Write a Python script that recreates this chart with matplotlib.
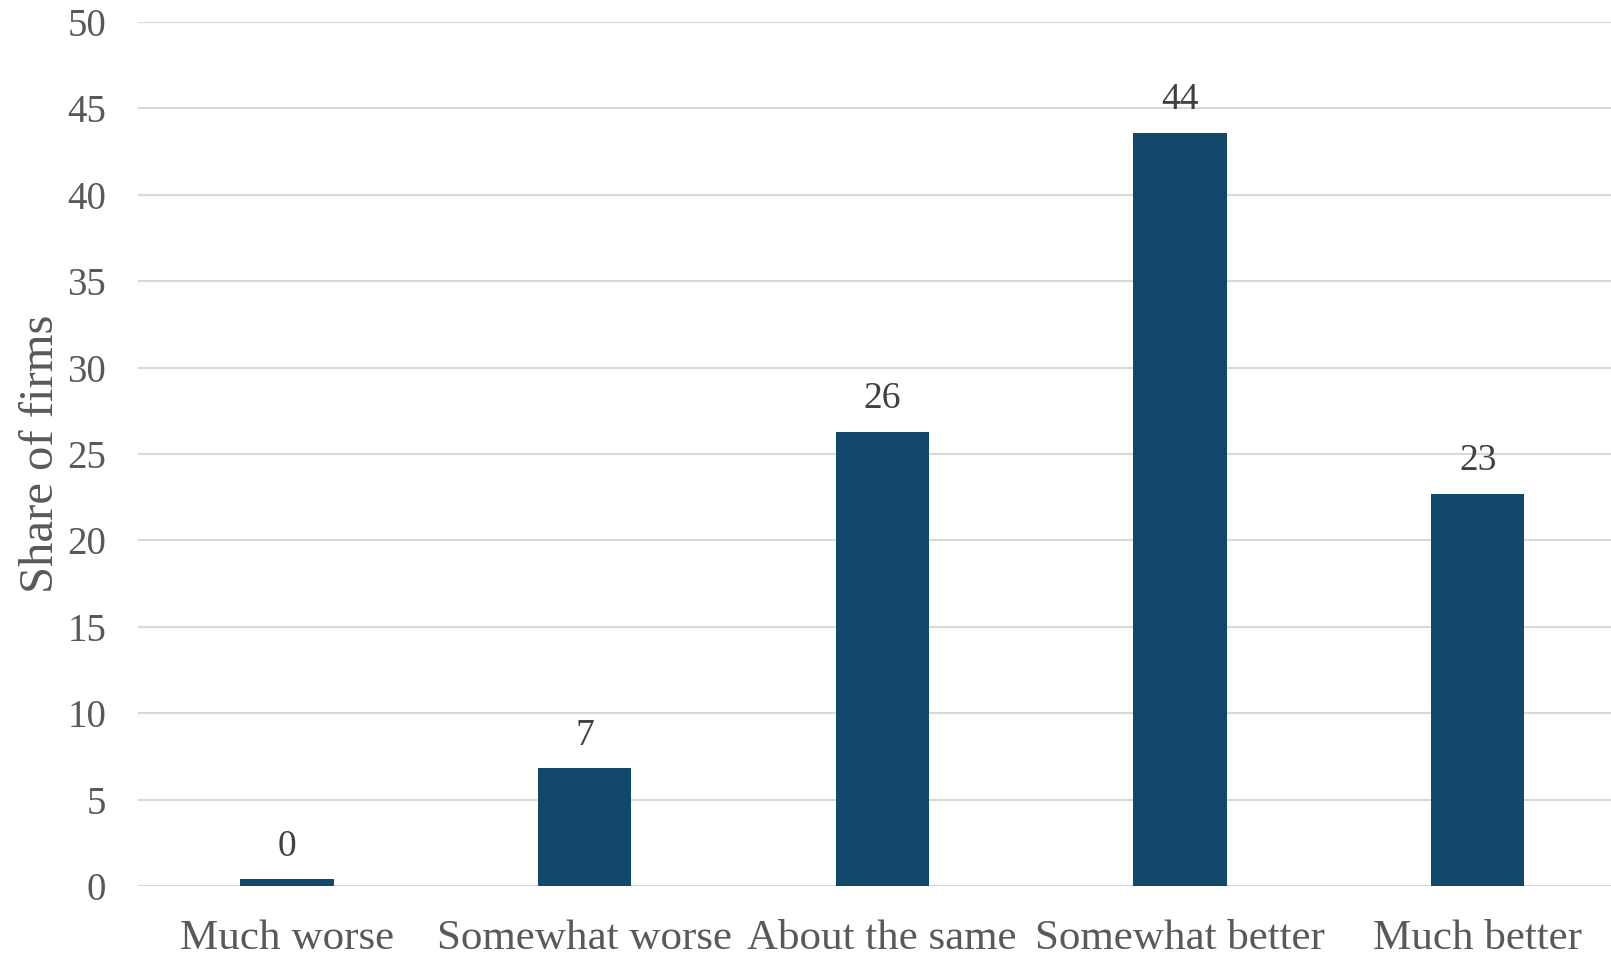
import matplotlib
matplotlib.use("Agg")
import matplotlib.pyplot as plt

categories = ["Much worse", "Somewhat worse", "About the same", "Somewhat better", "Much better"]
values = [0.4, 6.8, 26.3, 43.6, 22.7]
yticks = [0, 5, 10, 15, 20, 25, 30, 35, 40, 45, 50]

plt.rcParams['font.family'] = ['Liberation Serif', 'DejaVu Serif']

fig = plt.figure(figsize=(16.11, 9.55), dpi=100)
W, H = 1611, 955
left, right = 138 / W, 1.0
bottom, top = 1 - 886 / H, 1 - 22 / H
ax = fig.add_axes([left, bottom, right - left, top - bottom])

x = list(range(len(categories)))
bars = ax.bar(x, values, width=0.314, color="#124869", zorder=3)
for xi, v in zip(x, values):
    ax.text(xi, v + 0.9, f"{round(v):d}", ha="center", va="bottom",
            fontsize=27, color="#404040", zorder=4)

ax.set_xlim(-0.5, 4.448)
ax.set_ylim(0, 50)
ax.set_yticks(yticks)
ax.set_yticklabels([str(t) for t in yticks])
ax.set_xticks(x)
ax.set_xticklabels(categories)
ax.tick_params(axis="both", length=0, labelcolor="#595959")
ax.tick_params(axis="y", pad=23, labelsize=28)
ax.tick_params(axis="x", pad=24, labelsize=31)
ax.grid(axis="y", color="#d9d9d9", linewidth=1.5, zorder=0)
for s in ax.spines.values():
    s.set_visible(False)
ax.set_ylabel("Share of firms", fontsize=35, color="#595959", labelpad=3)

fig.savefig("out.png", dpi=100)
